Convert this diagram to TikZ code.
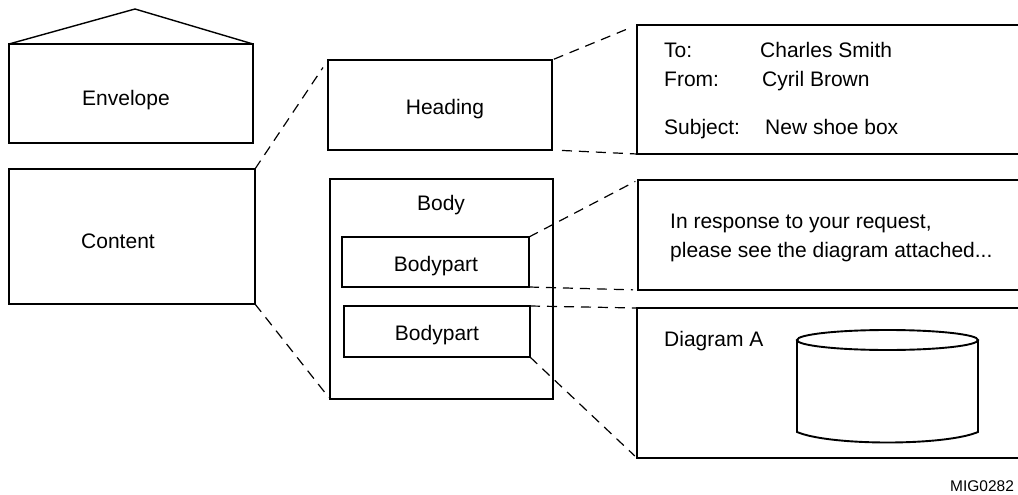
\documentclass[tikz,border=0pt]{standalone}
\usepackage{fontspec}
\setmainfont{Liberation Sans}
\begin{document}
\begin{tikzpicture}[x=1pt,y=-1pt,
  thinbox/.style={draw,line width=1.4pt,inner sep=0pt,outer sep=0pt,rectangle},
  thickbox/.style={draw,line width=2.6pt,inner sep=0pt,outer sep=0pt,rectangle},
  label/.style={inner sep=0pt,anchor=base,font=\fontsize{21}{25}\selectfont},
  leftlabel/.style={inner sep=0pt,anchor=base west,font=\fontsize{21}{25}\selectfont},
  zoomline/.style={draw,line width=1.2pt,dash pattern=on 10pt off 7pt}]
\useasboundingbox (0,0) rectangle (1018,495);

% envelope with its roof
\node[thinbox,minimum width=244pt,minimum height=99pt] (envelope) at (131,93.5) {};
\coordinate (peak) at (135,9);
\draw[line width=1.4pt,line join=miter] (envelope.north west) -- (peak) -- (envelope.north east);
\node[label] (envlabel) at (126,106) {Envelope};

% content
\node[thickbox,minimum width=246pt,minimum height=135pt] (content) at (132,236.5) {};
\node[label] (contlabel) at (118,248) {Content};

% heading and body
\node[thickbox,minimum width=224pt,minimum height=90pt] (heading) at (440,105) {};
\node[label] (headlabel) at (445,114) {Heading};
\node[thickbox,minimum width=223pt,minimum height=220pt] (body) at (441.5,289) {};
\node[label] (bodylabel) at (441,210) {Body};
\node[thickbox,minimum width=187pt,minimum height=50pt] (bpa) at (435.5,262) {};
\node[label] (bpalabel) at (436,271) {Bodypart};
\node[thickbox,minimum width=186pt,minimum height=51pt] (bpb) at (437,331.5) {};
\node[label] (bpblabel) at (437,340) {Bodypart};

% detail boxes on the right
\node[thickbox,minimum width=393pt,minimum height=129pt] (hdr) at (833.5,89.5) {};
\node[leftlabel] (to) at (664,58) {To:};
\node[leftlabel] (toname) at (760,58) {Charles Smith};
\node[leftlabel] (from) at (664,86) {From:};
\node[leftlabel] (fromname) at (762,86) {Cyril Brown};
\node[leftlabel] (subj) at (664,135) {Subject:};
\node[leftlabel] (subjtext) at (765,135) {New shoe box};

\node[thickbox,minimum width=392pt,minimum height=110pt] (msg) at (834,235) {};
\node[leftlabel] (msga) at (670,228) {In response to your request,};
\node[leftlabel] (msgb) at (670,257) {please see the diagram attached...};

\node[thickbox,minimum width=393pt,minimum height=150pt] (dia) at (833.5,383) {};
\node[leftlabel] (dialabel) at (664,346) {Diagram A};

% cylinder
\draw[line width=1.9pt] (887.5,340) ellipse [x radius=90.5, y radius=10];
\draw[line width=1.9pt] (797,340) -- (797,432)
  .. controls (830,446) and (945,446) .. (978,432) -- (978,340);

% zoom connectors
\draw[zoomline,shorten >=9pt] (content.north east) -- (heading.north west);
\draw[zoomline,shorten >=2pt] (content.south east) -- (body.south west);
\draw[zoomline,shorten <=2pt,shorten >=12pt] (heading.north east) -- (hdr.north west);
\draw[zoomline,shorten <=10pt] (heading.south east) -- (hdr.south west);
\draw[zoomline,shorten >=3pt] (bpa.north east) -- (msg.north west);
\draw[zoomline,shorten >=5pt] (bpa.south east) -- (msg.south west);
\draw[zoomline] (bpb.north east) -- (dia.north west);
\draw[zoomline,shorten >=3pt] (bpb.south east) -- (dia.south west);

% figure tag
\node[inner sep=0pt,anchor=base west,font=\fontsize{15.5}{18}\selectfont] (tag) at (950,491) {MIG0282};
\end{tikzpicture}
\end{document}
